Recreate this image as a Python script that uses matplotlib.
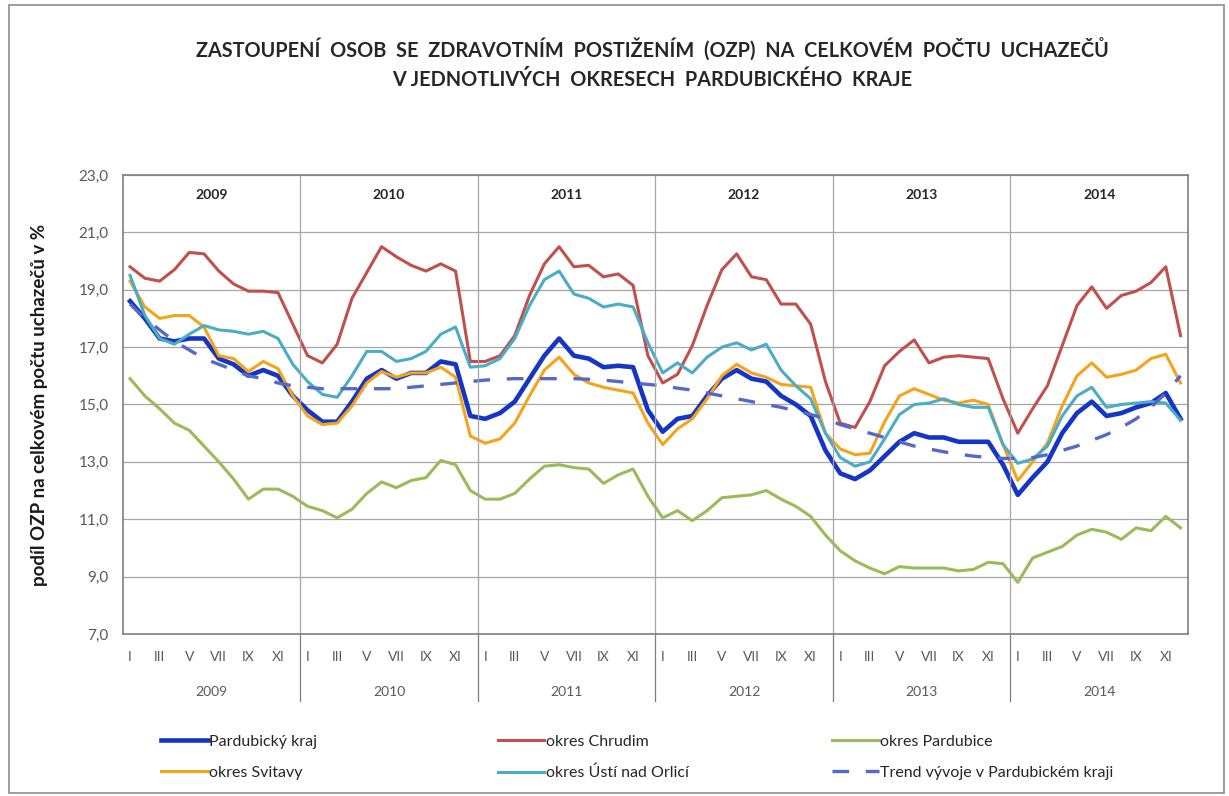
import numpy as np
import matplotlib
matplotlib.use("Agg")
import matplotlib.pyplot as plt
from matplotlib.patches import Rectangle

plt.rcParams['font.family'] = ['Lato', 'DejaVu Sans']

years = ['2009', '2010', '2011', '2012', '2013', '2014']
month_labels = ['I', 'III', 'V', 'VII', 'IX', 'XI']

kraj = [18.6, 18.0, 17.3, 17.2, 17.3, 17.3, 16.6, 16.4, 16.0, 16.2, 16.0, 15.3,
        14.8, 14.4, 14.4, 15.1, 15.9, 16.2, 15.9, 16.1, 16.1, 16.5, 16.4, 14.6,
        14.5, 14.7, 15.1, 15.9, 16.7, 17.3, 16.7, 16.6, 16.3, 16.35, 16.3, 14.8,
        14.05, 14.5, 14.6, 15.3, 15.9, 16.2, 15.9, 15.8, 15.3, 15.0, 14.6, 13.4,
        12.6, 12.4, 12.7, 13.2, 13.7, 14.0, 13.85, 13.85, 13.7, 13.7, 13.7, 12.9,
        11.85, 12.45, 13.0, 14.0, 14.7, 15.1, 14.6, 14.7, 14.9, 15.05, 15.4, 14.5]

chrudim = [19.8, 19.4, 19.3, 19.7, 20.3, 20.25, 19.65, 19.2, 18.95, 18.95, 18.9, 17.8,
           16.7, 16.45, 17.1, 18.7, 19.6, 20.5, 20.15, 19.85, 19.65, 19.9, 19.65, 16.5,
           16.5, 16.7, 17.4, 18.8, 19.9, 20.5, 19.8, 19.85, 19.45, 19.55, 19.15, 16.7,
           15.75, 16.05, 17.05, 18.45, 19.7, 20.25, 19.45, 19.35, 18.5, 18.5, 17.8, 15.8,
           14.35, 14.2, 15.1, 16.35, 16.85, 17.25, 16.45, 16.65, 16.7, 16.65, 16.6, 15.2,
           14.0, 14.85, 15.65, 17.05, 18.45, 19.1, 18.35, 18.8, 18.95, 19.25, 19.8, 17.4]

pardubice = [15.9, 15.3, 14.85, 14.35, 14.1, 13.55, 13.0, 12.4, 11.7, 12.05, 12.05, 11.8,
             11.45, 11.3, 11.05, 11.35, 11.9, 12.3, 12.1, 12.35, 12.45, 13.05, 12.9, 12.0,
             11.7, 11.7, 11.9, 12.4, 12.85, 12.9, 12.8, 12.75, 12.25, 12.55, 12.75, 11.8,
             11.05, 11.3, 10.95, 11.3, 11.75, 11.8, 11.85, 12.0, 11.7, 11.45, 11.1, 10.45,
             9.9, 9.55, 9.3, 9.1, 9.35, 9.3, 9.3, 9.3, 9.2, 9.25, 9.5, 9.45,
             8.8, 9.65, 9.85, 10.05, 10.45, 10.65, 10.55, 10.3, 10.7, 10.6, 11.1, 10.7]

svitavy = [19.3, 18.4, 18.0, 18.1, 18.1, 17.7, 16.7, 16.6, 16.15, 16.5, 16.25, 15.3,
           14.6, 14.3, 14.35, 14.95, 15.75, 16.15, 15.95, 16.1, 16.1, 16.3, 15.95, 13.9,
           13.65, 13.8, 14.35, 15.3, 16.2, 16.65, 16.05, 15.75, 15.6, 15.5, 15.4, 14.35,
           13.6, 14.15, 14.5, 15.2, 16.0, 16.4, 16.1, 15.95, 15.7, 15.65, 15.6, 14.0,
           13.45, 13.25, 13.3, 14.4, 15.3, 15.55, 15.35, 15.15, 15.05, 15.15, 15.0, 13.6,
           12.35, 13.0, 13.65, 14.95, 16.0, 16.45, 15.95, 16.05, 16.2, 16.6, 16.75, 15.75]

usti = [19.5, 18.1, 17.3, 17.1, 17.45, 17.75, 17.6, 17.55, 17.45, 17.55, 17.3, 16.4,
        15.8, 15.35, 15.25, 16.0, 16.85, 16.85, 16.5, 16.6, 16.85, 17.45, 17.7, 16.3,
        16.35, 16.6, 17.3, 18.45, 19.35, 19.65, 18.85, 18.7, 18.4, 18.5, 18.4, 17.15,
        16.1, 16.45, 16.1, 16.65, 17.0, 17.15, 16.9, 17.1, 16.2, 15.65, 15.2, 14.0,
        13.15, 12.85, 13.0, 13.8, 14.65, 15.0, 15.05, 15.2, 15.0, 14.9, 14.9, 13.6,
        12.95, 13.1, 13.55, 14.6, 15.3, 15.6, 14.9, 15.0, 15.05, 15.1, 15.05, 14.45]

trend = [18.5, 18.0, 17.6, 17.2, 16.9, 16.6, 16.4, 16.2, 16.0, 15.9, 15.75, 15.65,
         15.6, 15.55, 15.55, 15.55, 15.55, 15.55, 15.55, 15.6, 15.65, 15.7, 15.75, 15.8,
         15.85, 15.88, 15.9, 15.9, 15.9, 15.9, 15.9, 15.88, 15.85, 15.8, 15.75, 15.7,
         15.65, 15.57, 15.5, 15.4, 15.3, 15.2, 15.1, 15.0, 14.9, 14.78, 14.65, 14.5,
         14.3, 14.15, 14.0, 13.85, 13.7, 13.55, 13.45, 13.35, 13.27, 13.2, 13.15, 13.12,
         13.12, 13.15, 13.25, 13.4, 13.55, 13.75, 13.95, 14.2, 14.5, 14.9, 15.4, 16.0]

x = np.arange(len(kraj))

fig = plt.figure(figsize=(12.29, 7.96), dpi=100)
ax = fig.add_axes([0.0998, 0.2035, 0.8668, 0.5767])

lw = 2.2
l_kraj, = ax.plot(x, kraj, color='#1536C4', lw=3.3, label='Pardubický kraj')
l_chr, = ax.plot(x, chrudim, color='#C0504D', lw=lw, label='okres Chrudim')
l_par, = ax.plot(x, pardubice, color='#9BBB59', lw=lw, label='okres Pardubice')
l_svi, = ax.plot(x, svitavy, color='#F5A31A', lw=lw, label='okres Svitavy')
l_ust, = ax.plot(x, usti, color='#4BACC6', lw=lw, label='okres Ústí nad Orlicí')
l_tr, = ax.plot(x, trend, color='#5468C8', lw=2.4, dashes=(5, 5),
                label='Trend vývoje v Pardubickém kraji')

ax.set_xlim(-0.5, len(kraj) - 0.5)
ax.set_ylim(7, 23)
yt = np.arange(7, 24, 2)
ax.set_yticks(yt)
ax.set_yticklabels([f'{v:.1f}'.replace('.', ',') for v in yt], color='#595959', fontsize=11)
ax.yaxis.grid(True, color='#A6A6A6', lw=0.9)
ax.tick_params(axis='y', length=0, pad=10)

xt = [12 * i + m for i in range(len(years)) for m in range(0, 12, 2)]
ax.set_xticks(xt)
ax.set_xticklabels(month_labels * len(years), color='#595959', fontsize=10)
ax.tick_params(axis='x', length=0, pad=12)

for s in ax.spines.values():
    s.set_color('#7F7F7F')
    s.set_linewidth(1.2)

for i, yr in enumerate(years):
    if i > 0:
        ax.axvline(12 * i - 0.5, color='#A6A6A6', lw=0.9)
        ax.plot([12 * i - 0.5] * 2, [0, -0.145], color='#7F7F7F', lw=0.9,
                transform=ax.get_xaxis_transform(), clip_on=False)
    ax.text(12 * i + 5.5, 22.3, yr, ha='center', va='center', fontsize=10,
            fontweight='bold', color='#262626')
    ax.text(12 * i + 5.5, -0.126, yr, ha='center', va='center', fontsize=10,
            color='#595959', transform=ax.get_xaxis_transform())

ax.set_ylabel('podíl OZP na celkovém počtu uchazečů v %', fontsize=13.5,
              fontweight='bold', labelpad=22, color='#1a1a1a')

fig.text(0.531, 0.939,
         'ZASTOUPENÍ  OSOB  SE  ZDRAVOTNÍM  POSTIŽENÍM  (OZP)  NA  CELKOVÉM  POČTU  UCHAZEČŮ',
         ha='center', va='center', fontsize=14.3, fontweight='bold', color='#262626')
fig.text(0.531, 0.899, 'V JEDNOTLIVÝCH  OKRESECH  PARDUBICKÉHO  KRAJE',
         ha='center', va='center', fontsize=14.3, fontweight='bold', color='#262626')

# legend: three columns placed below the plot
cols = [(l_kraj, l_svi), (l_chr, l_ust), (l_par, l_tr)]
col_x = [0.126, 0.4, 0.672]
for hs, cx in zip(cols, col_x):
    lg = fig.legend(handles=list(hs), loc='upper left', bbox_to_anchor=(cx, 0.085),
                    frameon=False, fontsize=11.5, handlelength=2.9, handletextpad=0.1,
                    labelspacing=1.05, borderaxespad=0)
    for t in lg.get_texts():
        t.set_color('#262626')

fig.patches.append(Rectangle((0.007, 0.004), 0.989, 0.99, transform=fig.transFigure,
                             fill=False, edgecolor='#8C8C8C', lw=1.2))

fig.savefig('out.png', dpi=100, facecolor='white')
